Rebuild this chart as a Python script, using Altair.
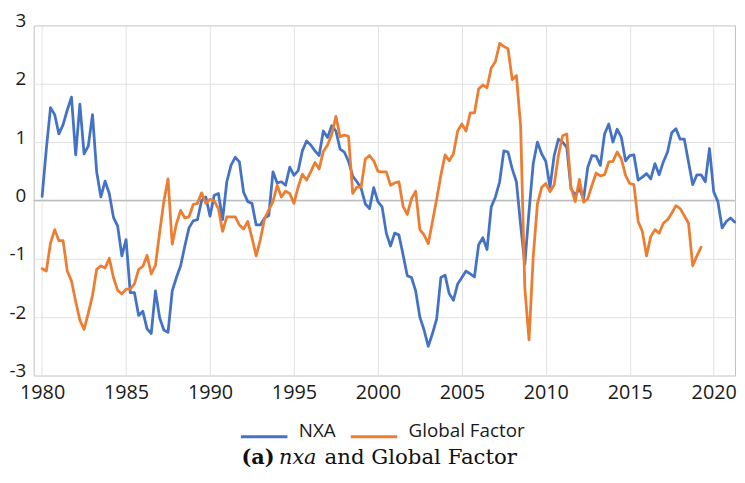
import altair as alt
import pandas as pd

# Quarterly series starting 1980Q1
nxa = [0.07, 0.88, 1.59, 1.47, 1.14, 1.3, 1.55, 1.77, 0.78, 1.65, 0.8, 0.93, 1.47, 0.49, 0.06, 0.33,
       0.12, -0.29, -0.44, -0.95, -0.67, -1.58, -1.58, -1.97, -1.9, -2.2, -2.28, -1.55, -2.01, -2.22, -2.26, -1.55,
       -1.32, -1.12, -0.78, -0.47, -0.35, -0.33, 0.0, 0.06, -0.27, 0.09, 0.12, -0.33, 0.32, 0.6, 0.74, 0.66,
       0.14, -0.02, -0.05, -0.42, -0.42, -0.3, -0.26, 0.49, 0.3, 0.32, 0.26, 0.57, 0.43, 0.51, 0.85, 1.02,
       0.95, 0.85, 0.77, 1.19, 1.08, 1.28, 1.19, 0.88, 0.83, 0.67, 0.42, 0.32, 0.21, -0.06, -0.14, 0.22,
       -0.02, -0.11, -0.56, -0.78, -0.56, -0.59, -0.93, -1.29, -1.32, -1.55, -2.0, -2.22, -2.5, -2.28, -2.03, -1.32,
       -1.28, -1.6, -1.71, -1.43, -1.32, -1.21, -1.26, -1.31, -0.76, -0.64, -0.84, -0.11, 0.06, 0.32, 0.85, 0.83,
       0.54, 0.32, -0.42, -1.09, -0.19, 0.63, 1.0, 0.8, 0.67, 0.23, 0.77, 1.05, 1.0, 0.91, 0.2, 0.09,
       0.2, 0.03, 0.57, 0.77, 0.76, 0.6, 1.14, 1.31, 1.0, 1.22, 1.08, 0.68, 0.77, 0.78, 0.35, 0.4,
       0.46, 0.37, 0.63, 0.44, 0.66, 0.83, 1.16, 1.23, 1.05, 1.05, 0.66, 0.27, 0.44, 0.44, 0.32, 0.89,
       0.15, -0.02, -0.47, -0.36, -0.3, -0.37]

global_factor = [-1.17, -1.21, -0.73, -0.5, -0.69, -0.69, -1.21, -1.38, -1.73, -2.05, -2.21, -1.93, -1.63, -1.18, -1.12, -1.16,
                 -0.99, -1.32, -1.54, -1.6, -1.52, -1.52, -1.43, -1.18, -1.13, -0.94, -1.26, -1.11, -0.55, -0.02, 0.37, -0.75,
                 -0.4, -0.17, -0.3, -0.28, -0.07, -0.05, 0.13, -0.05, 0.02, -0.01, -0.14, -0.53, -0.28, -0.28, -0.28, -0.42,
                 -0.49, -0.36, -0.64, -0.95, -0.67, -0.31, -0.16, -0.02, 0.26, 0.06, 0.16, 0.12, -0.05, 0.23, 0.45, 0.35,
                 0.49, 0.65, 0.54, 0.84, 0.95, 1.13, 1.44, 1.09, 1.12, 1.1, 0.12, 0.23, 0.23, 0.71, 0.77, 0.68,
                 0.5, 0.49, 0.49, 0.26, 0.3, 0.32, -0.1, -0.24, 0.03, 0.16, -0.5, -0.59, -0.74, -0.36, 0.02, 0.43,
                 0.78, 0.68, 0.8, 1.19, 1.31, 1.19, 1.5, 1.5, 1.91, 1.98, 1.93, 2.27, 2.38, 2.69, 2.64, 2.6,
                 2.07, 2.14, 1.28, -1.5, -2.39, -0.97, -0.06, 0.22, 0.29, 0.15, 0.27, 0.77, 1.11, 1.14, 0.23, -0.02,
                 0.36, -0.03, 0.03, 0.26, 0.47, 0.42, 0.44, 0.66, 0.67, 0.83, 0.71, 0.43, 0.29, 0.27, -0.36, -0.53,
                 -0.95, -0.62, -0.5, -0.56, -0.39, -0.33, -0.22, -0.09, -0.14, -0.26, -0.39, -1.12, -0.95, -0.8]

series_names = ["NXA", "Global Factor"]
series_colors = ["#4472C4", "#ED7D31"]
x_ticks = [1980, 1985, 1990, 1995, 2000, 2005, 2010, 2015, 2020]
y_ticks = [-3, -2, -1, 0, 1, 2, 3]
start_year = 1980

df_nxa = pd.DataFrame({"t": [start_year + i / 4 for i in range(len(nxa))], "v": nxa, "s": "NXA"})
df_glob = pd.DataFrame({"t": [start_year + i / 4 for i in range(len(global_factor))], "v": global_factor, "s": "Global Factor"})

x_enc = alt.X("t:Q",
              scale=alt.Scale(domain=[1979.5, 2021.27], nice=False, zero=False),
              axis=alt.Axis(values=x_ticks, format="d", title=None, labelFont="Open Sans",
                            labelFontSize=20, labelColor="#1a1a1a", labelPadding=7, ticks=False,
                            domain=False, grid=True, gridColor="#E2E2E2", labelFlush=False))
y_enc = alt.Y("v:Q",
              scale=alt.Scale(domain=[-3, 3], nice=False, zero=False),
              axis=alt.Axis(values=y_ticks, title=None, labelFont="Open Sans", labelFontSize=19,
                            labelExpr="datum.value < 0 ? '-' + abs(datum.value) : '' + datum.value",
                            labelColor="#1a1a1a", labelPadding=8, labelOffset=-5, ticks=False,
                            domain=False, grid=True, gridColor="#E2E2E2", labelFlush=False))
color_enc = alt.Color("s:N",
                      scale=alt.Scale(domain=series_names, range=series_colors),
                      legend=alt.Legend(orient="none", legendX=208, legendY=391, direction="horizontal",
                                        title=None, symbolType="stroke", symbolSize=2209,
                                        symbolStrokeWidth=3, labelFont="Open Sans", labelFontSize=19,
                                        labelColor="#1a1a1a", labelOffset=10, columnPadding=8,
                                        padding=0, labelBaseline="alphabetic", labelLimit=300))

zero_line = alt.Chart(pd.DataFrame({"v": [0]})).mark_rule(color="#BDBDBD", strokeWidth=1.4).encode(y=alt.Y("v:Q"))

line_nxa = alt.Chart(df_nxa).mark_line(strokeWidth=2.8, strokeJoin="round", strokeCap="round").encode(
    x=x_enc, y=y_enc, color=color_enc)
line_glob = alt.Chart(df_glob).mark_line(strokeWidth=2.8, strokeJoin="round", strokeCap="round").encode(
    x=x_enc, y=y_enc, color=color_enc)

cap_a = alt.Chart(pd.DataFrame({"txt": ["(a)"]})).mark_text(
    font="DejaVu Serif", fontSize=21, fontWeight="bold", align="left", baseline="alphabetic", color="#111"
).encode(text="txt:N", x=alt.value(210), y=alt.value(443))
cap_b = alt.Chart(pd.DataFrame({"txt": ["nxa"]})).mark_text(
    font="DejaVu Serif", fontSize=21, fontStyle="italic", align="left", baseline="alphabetic", color="#111"
).encode(text="txt:N", x=alt.value(248), y=alt.value(443))
cap_c = alt.Chart(pd.DataFrame({"txt": ["and Global Factor"]})).mark_text(
    font="DejaVu Serif", fontSize=21.5, align="left", baseline="alphabetic", color="#111"
).encode(text="txt:N", x=alt.value(294), y=alt.value(443))

chart = alt.layer(zero_line, line_nxa, line_glob, cap_a, cap_b, cap_c).properties(
    width=709, height=354,
    autosize=alt.AutoSizeParams(type="none"),
    padding={"left": 26, "top": 15, "right": 2, "bottom": 98},
).configure_view(stroke="#BFBFBF", strokeWidth=1)

chart.save("out.html", embed_options={"renderer": "svg", "actions": False})
